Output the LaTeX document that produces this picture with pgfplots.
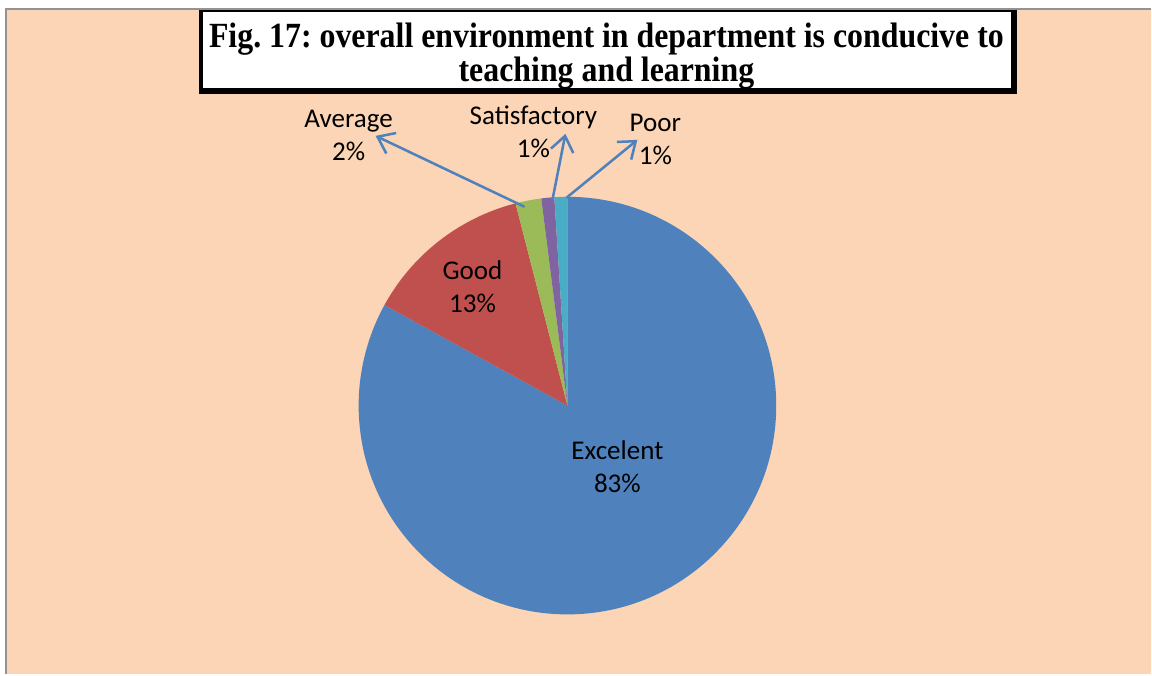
\documentclass[border=0pt]{standalone}
\usepackage{fontspec}
\setmainfont{Carlito}
\newfontfamily\titlefont{Liberation Serif}
\usepackage{pgfplots}
\pgfplotsset{compat=1.18}
\usetikzlibrary{arrows.meta}
\frenchspacing

\definecolor{bgpeach}{HTML}{FBD5B5}
\definecolor{sExc}{HTML}{4F81BD}
\definecolor{sGood}{HTML}{C0504D}
\definecolor{sAvg}{HTML}{9BBB59}
\definecolor{sSat}{HTML}{8064A2}
\definecolor{sPoor}{HTML}{4BACC6}

% pie radius in canvas units (209 px of 1152 px at 16cm)
\newcommand\R{2.9028cm}
% slice: start angle, percent, colour (clockwise from start)
\newcommand\slice[3]{%
  \fill[#3] (axis cs:568,406) -- ++(#1:\R)
    arc[start angle=#1, end angle={#1-3.6*#2}, radius=\R] -- cycle;}

\tikzset{lbl/.style={align=center, font=\fontsize{10.7}{13}\selectfont}}

\begin{document}
\begin{tikzpicture}
\begin{axis}[
    width=16cm, height=9.375cm, scale only axis,
    xmin=0, xmax=1152, ymin=0, ymax=675, y dir=reverse,
    axis lines=none, ticks=none, clip=false,
]
    % background and chart-area border
    \fill[white] (axis cs:0,0) rectangle (axis cs:1152,675);
    \fill[bgpeach] (axis cs:6,9) rectangle (axis cs:1152,675);
    \draw[gray!85, line width=0.9pt] (axis cs:6,675) -- (axis cs:6,9) -- (axis cs:1152,9);

    % pie: Excelent 83, Good 13, Average 2, Satisfactory 1, Poor 1
    \slice{90}{83}{sExc}
    \slice{-208.8}{13}{sGood}
    \slice{-255.6}{2}{sAvg}
    \slice{-262.8}{1}{sSat}
    \slice{-266.4}{1}{sPoor}

    % inside labels
    \node[lbl] at (axis cs:473,287) {Good\\13\%};
    \node[lbl] at (axis cs:618,467) {Excelent\\83\%};

    % leader arrows and outside labels
    \begin{scope}[sExc, line width=1pt, -{Straight Barb[length=6pt, width=9pt]}]
      \draw (axis cs:525,207) -- (axis cs:376,136);
      \draw (axis cs:553,200) -- (axis cs:566,134);
      \draw (axis cs:567,198) -- (axis cs:638,140);
    \end{scope}
    \node[lbl] at (axis cs:349,136) {Average\\2\%};
    \node[lbl] at (axis cs:534,132) {Satisfactory\\1\%};
    \node[lbl] at (axis cs:656,140) {Poor\\1\%};

    % title box with shadow edge
    \fill[black] (axis cs:199,10) rectangle (axis cs:1018,94);
    \fill[white] (axis cs:203,12) rectangle (axis cs:1012,88);
    \node[align=center, xscale=0.9, font=\titlefont\bfseries\fontsize{14}{13.4}\selectfont]
      at (axis cs:607,56) {Fig. 17: overall environment in department is conducive to\\teaching and learning};
\end{axis}
\end{tikzpicture}
\end{document}
